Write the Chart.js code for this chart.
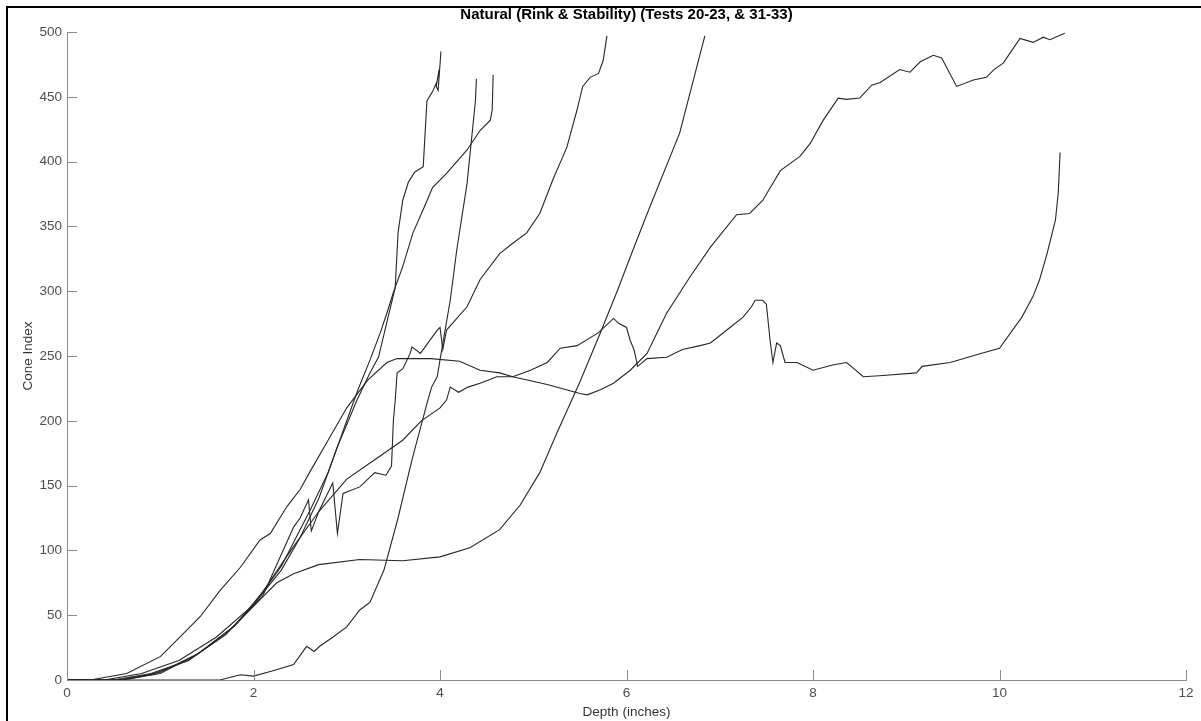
<!DOCTYPE html>
<html>
<head>
<meta charset="utf-8">
<script src="https://cdn.jsdelivr.net/npm/chart.js@4.4.1/dist/chart.umd.min.js"></script>
<style>
  html, body { margin: 0; padding: 0; background: #fff; }
  #wrap { width: 1201px; height: 721px; }
</style>
</head>
<body>
<div id="wrap"><canvas id="chart" width="1201" height="721"></canvas></div>
<script>
// axis ticks
const xTicks = [0, 2, 4, 6, 8, 10, 12];
const yTicks = [0, 50, 100, 150, 200, 250, 300, 350, 400, 450, 500];

// [depth (in), cone index], one array per test
const testA = [[0,0],[0.4,0],[0.8,5],[1.2,15],[1.6,33],[2.0,58],[2.3,85],[2.5,110],[2.7,140],[2.9,180],[3.11,216],[3.25,237],[3.34,249],[3.41,270],[3.52,303],[3.55,345],[3.6,370],[3.66,384],[3.73,392],[3.82,396],[3.86,447],[3.92,454],[3.97,462],[3.99,471],[3.96,458],[3.98,455],[4.01,485]];
const testB = [[0,0],[0.5,0],[0.9,5],[1.3,15],[1.7,35],[2.0,58],[2.3,88],[2.6,130],[2.8,160],[3.0,200],[3.12,224],[3.25,247],[3.36,268],[3.43,283],[3.5,299],[3.6,319],[3.71,345],[3.82,363],[3.92,380],[4.07,391],[4.29,409],[4.43,424],[4.54,432],[4.56,440],[4.57,467]];
const testC = [[0,0],[1.64,0],[1.86,4],[2.0,3],[2.2,7],[2.43,12],[2.57,26],[2.65,22],[2.71,26],[2.85,33],[3.0,41],[3.14,54],[3.25,60],[3.4,85],[3.55,125],[3.7,170],[3.87,216],[3.91,226],[3.97,234],[4.0,247],[4.05,268],[4.11,293],[4.18,332],[4.29,383],[4.38,447],[4.39,464]];
const testD = [[0,0],[0.6,0],[1.0,5],[1.4,20],[1.8,42],[2.1,65],[2.43,118],[2.5,125],[2.59,139],[2.62,115],[2.7,130],[2.85,152],[2.9,113],[2.96,144],[3.14,149],[3.3,160],[3.42,158],[3.48,165],[3.5,200],[3.52,216],[3.54,237],[3.6,240],[3.68,252],[3.7,257],[3.79,252],[3.97,270],[4.0,272],[4.03,255],[4.07,270],[4.29,288],[4.43,309],[4.64,329],[4.78,337],[4.93,345],[5.07,360],[5.21,386],[5.36,411],[5.47,440],[5.53,458],[5.61,465],[5.7,468],[5.75,478],[5.79,497]];
const testE = [[0,0],[0.5,0],[0.9,4],[1.3,15],[1.7,35],[2.07,62],[2.25,75],[2.43,82],[2.7,89],[3.14,93],[3.6,92],[4.0,95],[4.32,102],[4.64,116],[4.86,135],[5.07,160],[5.25,190],[5.5,230],[5.72,268],[5.9,300],[6.07,332],[6.25,365],[6.57,422],[6.84,497]];
const testF = [[0,0],[0.25,0],[0.64,5],[1.0,18],[1.21,33],[1.43,49],[1.64,69],[1.86,87],[2.07,108],[2.18,113],[2.36,134],[2.5,147],[2.6,160],[2.8,185],[3.0,210],[3.22,231],[3.43,245],[3.54,248],[3.9,248],[4.21,246],[4.43,239],[4.64,237],[4.78,234],[5.15,228],[5.5,221],[5.58,220],[5.72,224],[5.86,229],[6.04,239],[6.22,252],[6.43,283],[6.68,311],[6.9,334],[7.18,359],[7.32,360],[7.46,370],[7.65,393],[7.86,404],[7.97,414],[8.11,432],[8.27,449],[8.36,448],[8.5,449],[8.63,459],[8.72,461],[8.93,471],[9.04,469],[9.15,477],[9.29,482],[9.38,480],[9.54,458],[9.72,463],[9.86,465],[9.94,471],[10.04,476],[10.22,495],[10.36,492],[10.47,496],[10.54,494],[10.7,499]];
const testG = [[0,0],[0.6,0],[1.0,6],[1.4,20],[1.8,42],[2.1,68],[2.4,100],[2.7,130],[3.0,155],[3.3,170],[3.6,185],[3.8,200],[4.0,210],[4.07,216],[4.11,226],[4.2,222],[4.3,226],[4.43,229],[4.61,234],[4.78,234],[4.97,239],[5.15,245],[5.29,256],[5.47,258],[5.7,268],[5.86,279],[5.92,275],[6.0,272],[6.04,262],[6.08,255],[6.12,242],[6.22,248],[6.43,249],[6.6,255],[6.79,258],[6.9,260],[7.11,272],[7.25,280],[7.34,288],[7.38,293],[7.46,293],[7.5,290],[7.54,262],[7.57,245],[7.61,260],[7.65,258],[7.7,245],[7.83,245],[8.0,239],[8.21,243],[8.36,245],[8.54,234],[8.75,235],[9.11,237],[9.17,242],[9.47,245],[9.8,252],[10.0,256],[10.24,280],[10.36,296],[10.43,309],[10.51,329],[10.6,355],[10.63,376],[10.65,407]];

const allTests = [testA, testB, testC, testD, testE, testF, testG];

const axisGrey = '#8a8a8a';
const labelGrey = '#4d4d4d';
const fontFamily = '"Liberation Sans", Arial, Helvetica, sans-serif';

// figure frame + inward tick marks like the original plot
const framePlugin = {
  id: 'frame',
  beforeDraw(chart) {
    const c = chart.ctx;
    c.save();
    c.fillStyle = '#fff';
    c.fillRect(0, 0, chart.width, chart.height);
    c.fillStyle = '#000';
    c.fillRect(6, 6, chart.width - 6, 2);
    c.fillRect(6, 6, 2, chart.height - 6);
    c.restore();
  },
  afterDraw(chart) {
    const c = chart.ctx;
    const xs = chart.scales.x, ys = chart.scales.y;
    const a = chart.chartArea;
    c.save();
    c.strokeStyle = axisGrey;
    c.lineWidth = 1;
    c.beginPath();
    xTicks.forEach(v => {
      const px = Math.round(xs.getPixelForValue(v)) + 0.5;
      c.moveTo(px, a.bottom);
      c.lineTo(px, a.bottom - 10);
    });
    yTicks.forEach(v => {
      const py = Math.round(ys.getPixelForValue(v)) + 0.5;
      c.moveTo(a.left, py);
      c.lineTo(a.left + 10, py);
    });
    c.stroke();
    c.restore();
  }
};

const ctx = document.getElementById('chart').getContext('2d');

const chart = new Chart(ctx, {
  type: 'line',
  data: {
    datasets: allTests.map((pts, i) => ({
      label: 'Test ' + (i + 1),
      data: pts.map(p => ({ x: p[0], y: p[1] })),
      borderColor: '#262626',
      borderWidth: 1.1,
      pointRadius: 0,
      tension: 0,
      fill: false
    }))
  },
  options: {
    responsive: false,
    animation: false,
    layout: { padding: { left: 0, right: 15, top: 0, bottom: 0 } },
    scales: {
      x: {
        type: 'linear',
        min: 0,
        max: 12,
        afterFit(scale) { scale.height = 41; },
        afterBuildTicks(scale) { scale.ticks = xTicks.map(v => ({ value: v })); },
        ticks: { color: labelGrey, padding: 5, font: { family: fontFamily, size: 13.5 } },
        grid: { display: false, drawTicks: false },
        border: { display: true, color: axisGrey, width: 1 },
        title: {
          display: true,
          text: 'Depth (inches)',
          color: '#333',
          padding: { top: 0, bottom: 1 },
          font: { family: fontFamily, size: 13.5 }
        }
      },
      y: {
        type: 'linear',
        min: 0,
        max: 500,
        afterFit(scale) { scale.width = 67; },
        afterBuildTicks(scale) { scale.ticks = yTicks.map(v => ({ value: v })); },
        ticks: { color: labelGrey, padding: 5, font: { family: fontFamily, size: 13.5 } },
        grid: { display: false, drawTicks: false },
        border: { display: true, color: axisGrey, width: 1 },
        title: {
          display: true,
          text: 'Cone Index',
          color: '#333',
          padding: { top: 20, bottom: 0 },
          font: { family: fontFamily, size: 13.5 }
        }
      }
    },
    plugins: {
      legend: { display: false },
      tooltip: { enabled: false },
      title: {
        display: true,
        fullSize: false,
        text: 'Natural (Rink & Stability) (Tests 20-23, & 31-33)',
        color: '#000',
        padding: { top: 6, bottom: 8 },
        font: { family: fontFamily, size: 15, weight: 'bold' }
      }
    }
  },
  plugins: [framePlugin]
});
</script>
</body>
</html>
